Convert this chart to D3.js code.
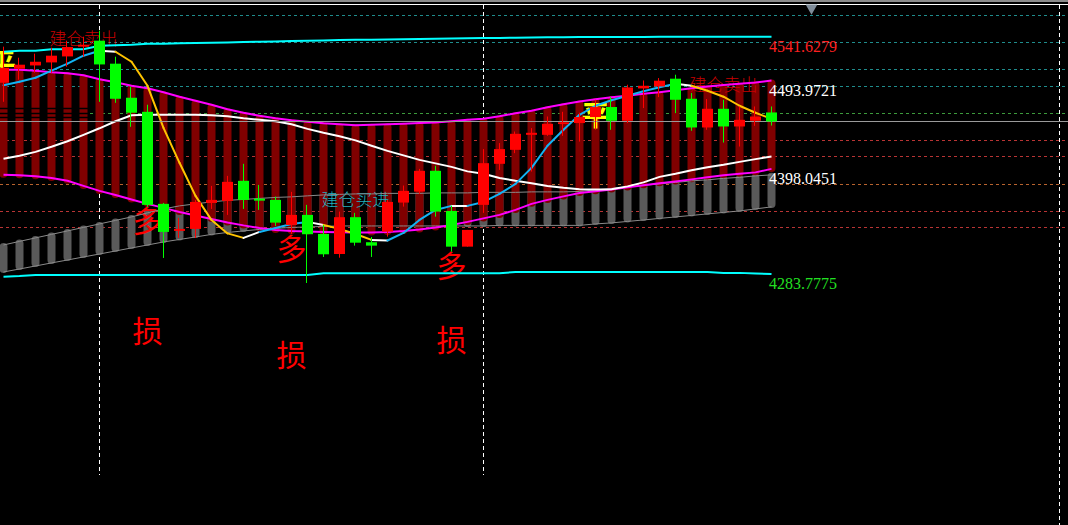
<!DOCTYPE html>
<html><head><meta charset="utf-8">
<script src="https://cdn.jsdelivr.net/npm/d3@7"></script>
<style>html,body{margin:0;padding:0;background:#000;overflow:hidden}</style>
</head><body>
<svg id="c" width="1068" height="525"></svg>
<script>
// ---- data ----
const bars = d3.range(49); // bar index (categories)
const open  = [4491.6,4506.8,4510.4,4513.7,4520.2,4530.8,4537.3,4512.3,4475.3,4460.0,4360.0,4330.6,4332.8,4361.0,4363.2,4385.0,4365.7,4364.3,4337.1,4348.0,4327.3,4305.5,4345.5,4318.3,4329.8,4361.4,4373.3,4395.9,4352.3,4313.5,4358.9,4403.5,4418.7,4435.0,4435.0,4446.7,4447.8,4454.3,4465.2,4450.3,4485.4,4487.6,4496.0,4474.2,4443.0,4463.3,4444.1,4450.3,4459.3];
const high  = [4530.8,4518.8,4523.2,4529.7,4537.3,4541.6,4548.2,4519.9,4487.2,4467.7,4361.0,4344.7,4364.3,4379.5,4390.4,4403.5,4380.6,4367.9,4373.0,4358.9,4337.1,4351.6,4350.2,4324.0,4364.3,4379.9,4398.0,4401.3,4358.1,4331.7,4419.5,4426.0,4438.6,4442.3,4454.9,4460.0,4459.0,4473.1,4476.0,4489.4,4494.1,4496.7,4500.3,4480.4,4473.9,4473.1,4465.8,4465.8,4465.8];
const low   = [4470.9,4494.9,4502.5,4502.5,4509.0,4519.9,4470.9,4469.8,4443.7,4356.7,4301.2,4323.0,4323.0,4354.5,4348.0,4354.5,4353.4,4336.0,4327.3,4274.0,4302.3,4301.5,4314.6,4302.3,4324.4,4357.0,4370.8,4346.1,4308.1,4313.5,4350.2,4396.9,4415.1,4395.1,4433.9,4433.9,4427.7,4440.5,4440.5,4447.8,4464.1,4476.0,4458.6,4439.4,4440.5,4426.6,4422.3,4444.8,4445.1];
const close = [4507.9,4511.2,4514.4,4521.0,4530.4,4532.9,4511.5,4474.2,4459.0,4358.9,4329.5,4332.8,4362.1,4364.3,4383.9,4364.3,4363.5,4339.6,4348.0,4327.0,4305.2,4345.5,4317.8,4314.6,4362.1,4374.1,4395.9,4351.6,4313.5,4331.7,4404.2,4419.5,4436.1,4437.2,4447.0,4448.6,4454.3,4465.2,4450.3,4486.5,4488.3,4493.8,4473.1,4443.0,4463.3,4444.1,4451.3,4454.9,4449.5];

const bandUpper = [4505.7,4505.7,4504.6,4503.0,4501.9,4499.8,4495.4,4492.1,4488.3,4485.6,4481.3,4476.4,4472.0,4467.7,4462.8,4459.0,4455.7,4453.0,4450.8,4449.2,4447.5,4446.4,4445.4,4445.9,4446.4,4447.0,4447.8,4448.4,4449.7,4451.3,4452.4,4455.2,4458.4,4461.1,4464.9,4468.2,4471.3,4473.6,4475.8,4477.5,4479.6,4481.3,4483.4,4485.6,4487.6,4489.1,4490.5,4491.8,4494.0];
const bandLower = [4391.5,4391.0,4389.9,4388.2,4385.0,4379.5,4374.1,4369.7,4364.8,4360.0,4355.6,4351.2,4347.4,4343.6,4339.8,4336.6,4333.8,4331.7,4330.6,4330.0,4329.5,4329.2,4328.9,4328.9,4329.5,4330.6,4332.2,4334.4,4337.1,4340.4,4344.2,4348.0,4353.4,4360.0,4364.3,4368.1,4371.9,4373.6,4375.7,4377.9,4380.1,4382.3,4384.4,4386.6,4388.8,4391.0,4392.6,4394.2,4398.0];
const slowMA = [4408.9,4412.2,4416.5,4422.0,4428.0,4435.0,4442.1,4449.7,4456.2,4456.8,4456.8,4456.8,4456.8,4456.2,4455.2,4453.0,4451.3,4449.7,4446.4,4441.5,4437.2,4433.4,4429.0,4423.1,4417.6,4412.7,4407.8,4404.0,4400.2,4395.3,4392.6,4388.2,4385.0,4382.3,4379.5,4377.4,4375.9,4375.7,4375.9,4379.0,4383.3,4389.3,4392.6,4396.4,4399.7,4402.4,4405.6,4408.6,4411.4];
const fastMA = [4488.9,4492.7,4497.0,4504.7,4512.3,4521.0,4526.4,4525.3,4514.4,4488.3,4442.6,4404.6,4368.7,4342.5,4327.9,4323.0,4329.5,4333.8,4338.2,4340.4,4337.1,4332.8,4327.3,4320.8,4320.2,4328.4,4342.5,4353.4,4357.8,4357.8,4362.1,4370.8,4381.7,4399.1,4423.1,4440.5,4456.8,4466.6,4472.6,4477.5,4482.3,4486.7,4490.5,4488.3,4482.9,4476.4,4466.6,4459.0,4452.4];
// trend state of fastMA segment i -> i+1 : 1 up, 0 flat, -1 down
const fastTrend = [1,1,1,1,1,1,0,-1,-1,-1,-1,-1,-1,-1,-1,0,1,1,1,0,-1,-1,-1,0,1,1,1,1,0,1,1,1,1,1,1,1,1,1,1,1,1,1,0,-1,-1,-1,-1,-1];
const channelTop = [4315.3,4319.2,4323.0,4326.8,4330.6,4334.4,4338.2,4342.0,4345.8,4350.2,4354.5,4357.8,4360.0,4362.1,4363.8,4364.8,4365.9,4367.0,4367.6,4368.7,4369.7,4370.3,4370.8,4370.8,4371.4,4371.4,4371.4,4371.9,4371.9,4371.9,4372.5,4372.5,4372.5,4373.0,4373.0,4373.0,4373.5,4375.2,4376.8,4378.4,4380.1,4381.7,4383.3,4385.0,4386.1,4387.7,4388.8,4390.4,4391.5];
const channelBot = [4286.0,4289.2,4292.5,4295.8,4299.0,4302.3,4305.5,4308.8,4312.1,4315.3,4318.6,4321.3,4324.0,4326.8,4328.9,4330.6,4332.2,4333.3,4334.4,4334.9,4335.5,4336.0,4336.0,4336.0,4336.0,4336.0,4336.0,4336.0,4336.0,4336.0,4336.0,4336.6,4336.6,4336.6,4336.6,4336.6,4336.6,4338.2,4339.3,4340.9,4342.5,4344.2,4345.8,4347.4,4349.1,4350.7,4352.3,4354.5,4356.7];
const envTop = [4525.3,4526.4,4526.4,4528.0,4528.0,4528.0,4531.9,4532.4,4532.9,4534.0,4534.0,4534.6,4534.8,4535.1,4535.4,4535.9,4536.2,4536.5,4537.0,4537.3,4537.6,4538.1,4538.4,4538.4,4538.7,4538.9,4539.1,4539.5,4539.7,4539.9,4540.1,4540.3,4540.6,4540.8,4541.0,4541.1,4541.2,4541.3,4541.3,4541.4,4541.4,4541.5,4541.5,4541.5,4541.6,4541.6,4541.6,4541.6,4541.6];
const envBot = [4280.9,4281.6,4282.7,4282.7,4282.7,4282.7,4282.7,4282.7,4282.7,4282.7,4282.7,4282.7,4282.7,4282.7,4282.7,4282.7,4282.7,4282.7,4282.7,4282.7,4284.5,4284.5,4284.5,4284.5,4284.5,4284.5,4284.5,4284.5,4284.5,4284.5,4284.5,4284.5,4286.0,4286.0,4286.0,4286.0,4286.0,4286.0,4286.0,4286.0,4286.0,4286.0,4286.0,4286.0,4286.0,4285.0,4285.0,4284.3,4283.8];

const priceLabels = ["4541.6279","4493.9721","4398.0451","4283.7775"];
const levelPrices = [4565.6,4536.2,4506.8,4488.3,4459.0,4429.6,4412.2,4381.7,4352.3,4335.0];
const levelKinds  = ["t","t","t","t","g","r","r","o","r","r"];
const separatorBars = [6,30,66];
// black (hidden) indicator levels that only show across the bars
const blackLevels = [4464.4,4459.0,4454.6];
const blackLevelBars = [0,5.4];

const notes = [
  {text:"建仓卖出", bar:5,  price:4532.9, kind:"sell"},
  {text:"建仓卖出", bar:45, price:4482.9, kind:"sell"},
  {text:"建仓买进", bar:22, price:4357.8, kind:"buy"},
  {text:"平", bar:-0.1, price:4501.4, kind:"close"},
  {text:"平", bar:37, price:4444.8, kind:"close"},
  {text:"多", bar:9,  price:4328.9, kind:"big"},
  {text:"多", bar:18, price:4298.5, kind:"big"},
  {text:"多", bar:28, price:4280.0, kind:"big"},
  {text:"损", bar:9,  price:4209.8, kind:"big"},
  {text:"损", bar:18, price:4183.7, kind:"big"},
  {text:"损", bar:28, price:4200.0, kind:"big"}
];

// ---- scales ----
const W = 1068, H = 525;
const svg = d3.select("#c");
const x = d3.scaleLinear().domain([0, 48]).range([3.5, 771.5]);
const y = d3.scaleLinear().domain([+priceLabels[0], +priceLabels[3]]).range([36.7, 274]);

svg.append("rect").attr("width", W).attr("height", H).attr("fill", "#000");

// top frame
svg.append("rect").attr("x",0).attr("y",0).attr("width",W).attr("height",2).attr("fill","#8c8c8c");
svg.append("line").attr("x1",0).attr("x2",W).attr("y1",4.5).attr("y2",4.5).attr("stroke","#fff").attr("stroke-width",1);

// level lines
const levelColor = d3.scaleOrdinal().domain(["t","g","r","o"]).range(["#1f8c8c","#3c9a3c","#b83434","#b8632e"]);
svg.append("g").selectAll("line").data(levelPrices).join("line")
  .attr("x1",0).attr("x2",W)
  .attr("y1",d=>Math.round(y(d))+0.5).attr("y2",d=>Math.round(y(d))+0.5)
  .attr("stroke",(d,i)=>levelColor(levelKinds[i])).attr("stroke-width",1)
  .attr("stroke-dasharray","3,3");

// separators
svg.append("g").selectAll("line").data(separatorBars).join("line")
  .attr("x1",d=>Math.round(x(d))-0.5).attr("x2",d=>Math.round(x(d))-0.5)
  .attr("y1",5).attr("y2",(d,i)=> i<2 ? 475 : H)
  .attr("stroke","#fff").attr("stroke-width",1).attr("stroke-dasharray","4,3");

// grey channel bars
svg.append("g").selectAll("rect").data(bars).join("rect")
  .attr("x",i=>x(i)-4).attr("width",8)
  .attr("y",i=>y(channelTop[i])-2)
  .attr("height",i=>y(channelBot[i])-y(channelTop[i])+3)
  .attr("rx",4).attr("fill","#5a5a5a");

// dark red band bars
svg.append("g").selectAll("rect").data(bars).join("rect")
  .attr("x",i=>x(i)-4).attr("width",8)
  .attr("y",i=>y(bandUpper[i])-1)
  .attr("height",i=>y(bandLower[i])-y(bandUpper[i])+4)
  .attr("rx",4).attr("fill","#800000");

// black indicator levels (visible only over the bars)
svg.append("g").selectAll("line").data(blackLevels).join("line")
  .attr("x1",x(blackLevelBars[0])-4).attr("x2",x(blackLevelBars[1]))
  .attr("y1",d=>Math.round(y(d))+0.5).attr("y2",d=>Math.round(y(d))+0.5)
  .attr("stroke","#000").attr("stroke-width",1.5);

// notes (under lines and candles)
const noteStyle = {
  sell:{size:17, fill:"#c80000", weight:300},
  buy:{size:17, fill:"#22aebe", weight:300},
  close:{size:28, fill:"#ffff00", weight:700},
  big:{size:30, fill:"#ff0000", weight:400}
};
svg.append("g").selectAll("text").data(notes).join("text")
  .attr("x",d=>x(d.bar)).attr("y",d=>y(d.price))
  .attr("text-anchor","middle")
  .attr("font-family","'Noto Sans CJK SC','Noto Sans',sans-serif")
  .attr("font-size",d=>noteStyle[d.kind].size)
  .attr("font-weight",d=>noteStyle[d.kind].weight)
  .attr("fill",d=>noteStyle[d.kind].fill)
  .text(d=>d.text);

// helper line
function drawLine(vals, color, width){
  svg.append("path").datum(bars)
    .attr("d", d3.line().x(i=>x(i)).y(i=>y(vals[i])))
    .attr("fill","none").attr("stroke",color).attr("stroke-width",width);
}
drawLine(channelTop,"#8a8a8a",1);
drawLine(channelBot,"#8a8a8a",1);
drawLine(envTop,"#00ffff",2);
drawLine(envBot,"#00ffff",2);
drawLine(bandUpper,"#ff00ff",2);
drawLine(bandLower,"#ff00ff",2);
drawLine(slowMA,"#ffffff",2);

// fast MA coloured by trend
const trendColor = d3.scaleOrdinal().domain([1,0,-1]).range(["#12b4f5","#ffffff","#ffc400"]);
svg.append("g").selectAll("line").data(bars.slice(0,48)).join("line")
  .attr("x1",i=>x(i)).attr("y1",i=>y(fastMA[i]))
  .attr("x2",i=>x(i+1)).attr("y2",i=>y(fastMA[i+1]))
  .attr("stroke",i=>trendColor(fastTrend[i])).attr("stroke-width",2).attr("stroke-linecap","round");

// current price line
const last = close[close.length-1];
svg.append("line").attr("x1",0).attr("x2",W)
  .attr("y1",Math.round(y(last))+0.5).attr("y2",Math.round(y(last))+0.5)
  .attr("stroke","#9a9a9a").attr("stroke-width",1);

// candles
const candleColor = i => close[i] >= open[i] ? "#ff0000" : "#00ff00";
const cg = svg.append("g");
cg.selectAll("line").data(bars).join("line")
  .attr("x1",i=>Math.round(x(i))-0.5).attr("x2",i=>Math.round(x(i))-0.5)
  .attr("y1",i=>y(high[i])).attr("y2",i=>y(low[i]))
  .attr("stroke",candleColor).attr("stroke-width",1);
cg.selectAll("rect").data(bars).join("rect")
  .attr("x",i=>x(i)-5.5).attr("width",11)
  .attr("y",i=>y(Math.max(open[i],close[i])))
  .attr("height",i=>Math.max(1.5, Math.abs(y(open[i])-y(close[i]))))
  .attr("fill",candleColor);

// price labels
const labelColor = ["#ff2020","#ffffff","#ffffff","#22e022"];
svg.append("g").selectAll("text").data(priceLabels).join("text")
  .attr("x", x(48)-2.5).attr("y", d=>y(+d)+15)
  .attr("font-family","'Liberation Serif',serif").attr("font-size",16)
  .attr("fill",(d,i)=>labelColor[i]).text(d=>d);

// shift marker triangle
svg.append("path").attr("d", d3.symbol().type(d3.symbolTriangle).size(60)())
  .attr("transform", `translate(${x(50.5)},8) rotate(180)`).attr("fill","#7f8c99");
</script>
</body></html>
